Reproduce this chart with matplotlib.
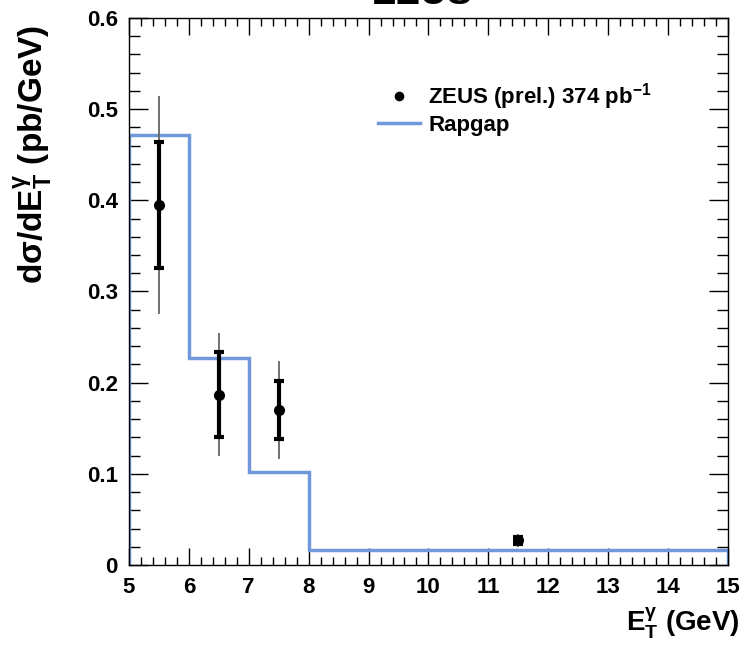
import matplotlib
matplotlib.use('Agg')
from matplotlib import pyplot as plt
from matplotlib.ticker import MultipleLocator

plt.rcParams['font.family'] = ['Liberation Sans', 'DejaVu Sans']
plt.rcParams['font.weight'] = 'bold'
plt.rcParams['mathtext.fontset'] = 'custom'
plt.rcParams['mathtext.rm'] = 'Liberation Sans:bold'
plt.rcParams['mathtext.it'] = 'Liberation Sans:bold'
plt.rcParams['mathtext.bf'] = 'Liberation Sans:bold'

# Data
et_centre = [5.5, 6.5, 7.5, 11.5]
xsec = [0.395, 0.187, 0.170, 0.027]
stat_err = [0.069, 0.047, 0.032, 0.004]
tot_err = [0.12, 0.067, 0.054, 0.007]

bin_edges = [5, 6, 7, 8, 15]
rapgap = [0.472, 0.227, 0.102, 0.016]

fig = plt.figure(figsize=(7.54, 6.53), dpi=100)
ax = fig.add_axes([0.171, 0.1348, 0.7945, 0.8376])

# Rapgap histogram
ax.stairs(rapgap, bin_edges, color='#7099db', linewidth=2.5, label='Rapgap', zorder=2)

# ZEUS points: total (thin) and statistical (thick) errors
ax.errorbar(et_centre, xsec, yerr=tot_err, fmt='none', ecolor='#666666', elinewidth=1.3, zorder=3)
ax.errorbar(et_centre, xsec, yerr=stat_err, fmt='none', ecolor='black', elinewidth=3,
            capsize=3.5, capthick=3, zorder=4)
ax.plot(et_centre, xsec, 'o', color='black', markersize=7, zorder=5,
        label=r'ZEUS (prel.) 374 pb$^{-1}$')

ax.set_xlim(5, 15)
ax.set_ylim(0, 0.6)
ax.xaxis.set_major_locator(MultipleLocator(1))
ax.xaxis.set_minor_locator(MultipleLocator(0.2))
ax.yaxis.set_major_locator(MultipleLocator(0.1))
ax.yaxis.set_minor_locator(MultipleLocator(0.02))
ax.set_yticks([0, 0.1, 0.2, 0.3, 0.4, 0.5, 0.6], ['0', '0.1', '0.2', '0.3', '0.4', '0.5', '0.6'])
ax.tick_params(which='both', direction='in', top=True, right=True, labelsize=16, width=1)
ax.tick_params(axis='y', which='major', length=13.5, pad=8)
ax.tick_params(axis='y', which='minor', length=8)
ax.tick_params(axis='x', which='major', length=12, pad=9)
ax.tick_params(axis='x', which='minor', length=6)
for s in ax.spines.values():
    s.set_linewidth(1)

ax.set_ylabel(r'd$\mathrm{σ}$/dE$_\mathrm{T}^\mathrm{γ}$ (pb/GeV)', fontsize=24, fontweight='bold')
ax.yaxis.set_label_coords(-0.125, 0.75)
ax.set_xlabel(r'E$_\mathrm{T}^\mathrm{γ}$ (GeV)', fontsize=20, fontweight='bold')
ax.xaxis.set_label_coords(1.02, -0.075, transform=ax.transAxes)
ax.xaxis.label.set_horizontalalignment('right')

fig.text(0.561, 0.981, 'ZEUS', fontsize=27, fontweight='bold', ha='center', va='bottom')

handles, labels = ax.get_legend_handles_labels()
leg = ax.legend(handles[::-1], labels[::-1], loc='upper left', bbox_to_anchor=(0.416, 0.885),
                frameon=False, fontsize=16, handlelength=1.9, handletextpad=0.35,
                labelspacing=0.15, borderpad=0, borderaxespad=0, markerscale=0.85)

plt.savefig('out.png', dpi=100)
